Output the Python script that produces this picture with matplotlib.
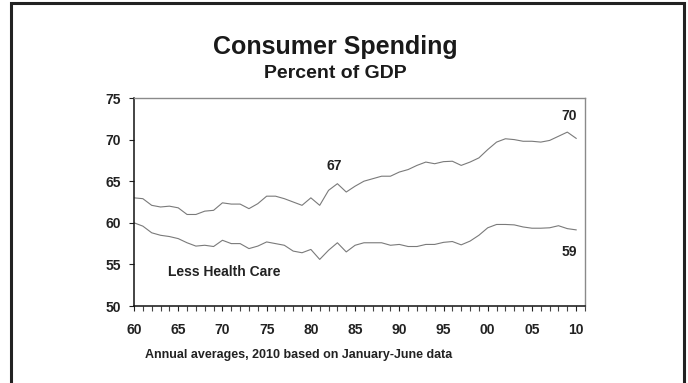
#!/usr/bin/env python3
"""Consumer spending as a share of GDP, with and without health care, 1960-2010."""
import matplotlib
matplotlib.use("Agg")
import matplotlib.pyplot as plt
from matplotlib.patches import Rectangle
from matplotlib.ticker import MultipleLocator

plt.rcParams["font.family"] = ["Liberation Sans", "DejaVu Sans"]
plt.rcParams["font.weight"] = "bold"

YEARS = list(range(1960, 2011))

# percent of GDP, annual averages (2010 = Jan-Jun)
TOTAL = [
    63.0, 62.9, 62.1, 61.9, 62.0, 61.8, 61.0, 61.0, 61.4, 61.5,
    62.4, 62.25, 62.25, 61.7, 62.3, 63.2, 63.2, 62.9, 62.5, 62.1,
    63.0, 62.1, 63.9, 64.7, 63.7, 64.4, 65.0, 65.3, 65.6, 65.6,
    66.1, 66.4, 66.9, 67.3, 67.1, 67.35, 67.4, 66.9, 67.3, 67.8,
    68.8, 69.7, 70.1, 70.0, 69.8, 69.8, 69.7, 69.9, 70.4, 70.9, 70.15,
]
LESS_HEALTH = [
    60.0, 59.6, 58.8, 58.5, 58.35, 58.1, 57.6, 57.2, 57.3, 57.15,
    57.9, 57.5, 57.5, 56.9, 57.2, 57.7, 57.5, 57.3, 56.6, 56.4,
    56.8, 55.6, 56.7, 57.6, 56.5, 57.3, 57.6, 57.6, 57.6, 57.3,
    57.4, 57.15, 57.15, 57.4, 57.4, 57.65, 57.75, 57.35, 57.8, 58.5,
    59.4, 59.8, 59.8, 59.75, 59.5, 59.35, 59.35, 59.4, 59.65, 59.3, 59.15,
]

X_TICKS = list(range(1960, 2011, 5))
X_LABELS = [f"{y % 100:02d}" for y in X_TICKS]
Y_TICKS = [50, 55, 60, 65, 70, 75]

W, H = 688, 383
fig = plt.figure(figsize=(W / 100, H / 100), dpi=100)
ax = fig.add_axes([134 / W, 1 - 306 / H, (585 - 134) / W, (306 - 98) / H])

line_kw = dict(color="#7a7a7a", lw=0.8)
ax.plot(YEARS, TOTAL, **line_kw)
ax.plot(YEARS, LESS_HEALTH, **line_kw)

ax.set_xlim(1960, 2011)
ax.set_ylim(50, 75)
ax.set_xticks(X_TICKS)
ax.set_xticklabels(X_LABELS)
ax.xaxis.set_minor_locator(MultipleLocator(1))
ax.set_yticks(Y_TICKS)

ax.tick_params(axis="x", which="both", direction="out", length=3.5, width=0.8,
               pad=9, labelsize=10, colors="#222222")
ax.tick_params(axis="x", which="minor", color="#444444")
ax.tick_params(axis="y", direction="out", length=3.5, width=0.8, pad=6,
               labelsize=10, colors="#222222")
for lbl in ax.get_xticklabels() + ax.get_yticklabels():
    lbl.set_fontweight("bold")

for side in ("left", "bottom"):
    ax.spines[side].set_color("#111111")
    ax.spines[side].set_linewidth(1.1)
for side in ("top", "right"):
    ax.spines[side].set_color("#8a8a8a")
    ax.spines[side].set_linewidth(1.0)

txt = dict(fontsize=10, fontweight="bold", color="#222222")
ax.text(1982.6, 66.8, "67", ha="center", va="center", **txt)
ax.text(2009.2, 72.8, "70", ha="center", va="center", **txt)
ax.text(2009.2, 56.5, "59", ha="center", va="center", **txt)
ax.text(1963.8, 54.05, "Less Health Care", ha="left", va="center", **txt)

fig.text(335 / W, 1 - 47 / H, "Consumer Spending", ha="center", va="center",
         fontsize=18, fontweight="bold", color="#1a1a1a")
fig.text(335 / W, 1 - 73 / H, "Percent of GDP", ha="center", va="center",
         fontsize=14, fontweight="bold", color="#1a1a1a")
fig.text(145 / W, 1 - 355 / H, "Annual averages, 2010 based on January-June data",
         ha="left", va="center", fontsize=9, fontweight="bold", color="#222222")

# outer frame, open at the bottom edge of the image
fig.patches.append(Rectangle((11.5 / W, -0.05), (683.5 - 11.5) / W, 1.05 - 3.5 / H,
                             transform=fig.transFigure, fill=False,
                             edgecolor="#222222", lw=2.2))

fig.savefig("out.png", dpi=100)
